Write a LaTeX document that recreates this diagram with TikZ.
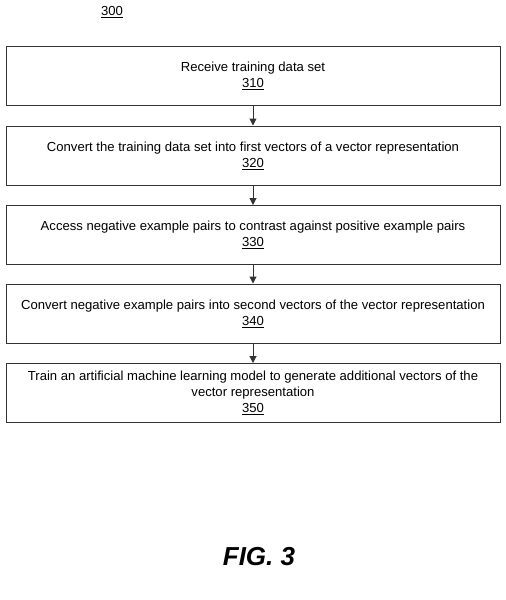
\documentclass[tikz,border=0pt]{standalone}
\usepackage{fontspec}
\setmainfont{Liberation Sans}
\usetikzlibrary{arrows.meta}
\begin{document}
\begin{tikzpicture}[x=1pt,y=-1pt,
  stepbox/.style={draw=black!80, line width=1pt, minimum width=494pt, minimum height=59pt,
    align=center, font=\fontsize{13.1}{16}\selectfont, inner sep=0pt},
  conn/.style={draw=black!80, line width=1pt, -{Triangle[length=7pt,width=7pt]}}]
\useasboundingbox (0,0) rectangle (506,600);
\node (title) at (112,12) {\fontsize{13.1}{15}\selectfont\underline{300}};
\node[stepbox] (s1) at (253,76) {Receive training data set\\\underline{310}};
\node[stepbox] (s2) at (253,155.5) {Convert the training data set into first vectors of a vector representation\\\underline{320}};
\node[stepbox] (s3) at (253,235) {Access negative example pairs to contrast against positive example pairs\\\underline{330}};
\node[stepbox] (s4) at (253,313.5) {Convert negative example pairs into second vectors of the vector representation\\\underline{340}};
\node[stepbox] (s5) at (253,393) {Train an artificial machine learning model to generate additional vectors of the\\vector representation\\\underline{350}};
\draw[conn] (s1) -- (s2);
\draw[conn] (s2) -- (s3);
\draw[conn] (s3) -- (s4);
\draw[conn] (s4) -- (s5);
\node (fig) at (259,557) {\fontsize{26}{30}\selectfont\bfseries\itshape FIG. 3};
\end{tikzpicture}
\end{document}
